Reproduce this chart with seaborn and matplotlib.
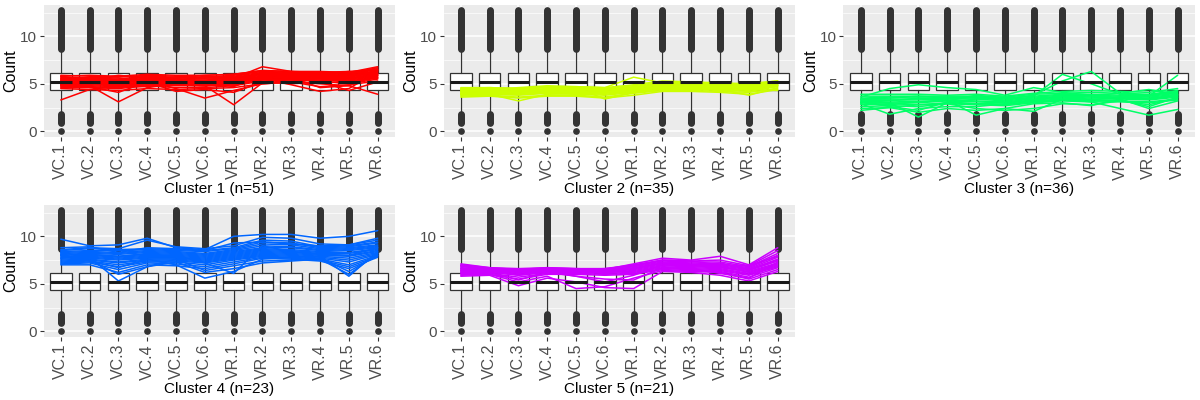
import numpy as np
import pandas as pd
import seaborn as sns
import matplotlib.pyplot as plt

samples = ['VC.1', 'VC.2', 'VC.3', 'VC.4', 'VC.5', 'VC.6',
           'VR.1', 'VR.2', 'VR.3', 'VR.4', 'VR.5', 'VR.6']
titles = ['Cluster 1 (n=51)', 'Cluster 2 (n=35)', 'Cluster 3 (n=36)',
          'Cluster 4 (n=23)', 'Cluster 5 (n=21)']
colors = ['#FF0000', '#CCFF00', '#00FF66', '#0066FF', '#CC00FF']

# background boxplot of all genes (same in every sample)
box_q1 = 4.35
box_med = 5.23
box_q3 = 6.1
box_lo = 1.9
box_hi = 8.6
out_hi = [8.7, 8.8, 8.9, 9.0, 9.1, 9.2, 9.3, 9.4, 9.5, 9.6, 9.7, 9.8, 9.9, 10.0,
          10.1, 10.2, 10.3, 10.4, 10.5, 10.6, 10.7, 10.8, 10.9, 11.0, 11.1, 11.2,
          11.3, 11.4, 11.5, 11.6, 11.7, 11.8, 11.9, 12.0, 12.1, 12.2, 12.3, 12.4,
          12.5, 12.6, 12.7, 12.8]
out_lo = [0.0, 0.9, 1.0, 1.1, 1.2, 1.3, 1.4, 1.5, 1.6, 1.7, 1.8]

cluster1 = [
    [5.9, 5.8, 5.7, 5.9, 5.8, 5.7, 5.9, 6.3, 6.2, 6.1, 6.0, 6.6],
    [5.8, 5.9, 5.8, 6.0, 5.9, 5.9, 6.0, 6.4, 6.3, 6.3, 6.2, 6.8],
    [5.7, 5.6, 5.5, 5.8, 5.7, 5.6, 5.8, 6.2, 6.1, 6.2, 6.1, 6.7],
    [5.6, 5.6, 5.4, 5.7, 5.6, 5.6, 5.7, 6.1, 6.1, 6.1, 6.0, 6.5],
    [5.5, 5.5, 5.3, 5.6, 5.5, 5.5, 5.6, 6.0, 6.0, 6.0, 5.9, 6.4],
    [5.4, 5.4, 5.3, 5.5, 5.4, 5.4, 5.6, 6.0, 5.9, 5.9, 5.8, 6.3],
    [5.3, 5.2, 5.2, 5.4, 5.3, 5.3, 5.5, 5.9, 5.9, 5.8, 5.7, 6.2],
    [5.2, 5.1, 5.1, 5.3, 5.2, 5.2, 5.4, 5.8, 5.8, 5.8, 5.6, 6.1],
    [5.1, 5.0, 5.0, 5.2, 5.1, 5.1, 5.3, 5.8, 5.8, 5.7, 5.6, 6.0],
    [5.0, 5.0, 4.9, 5.1, 5.0, 5.0, 5.2, 5.7, 5.7, 5.6, 5.5, 5.9],
    [4.9, 4.9, 4.8, 5.0, 5.0, 4.9, 5.1, 5.6, 5.6, 5.6, 5.4, 5.8],
    [4.8, 4.8, 4.7, 4.9, 4.9, 4.8, 5.0, 5.5, 5.5, 5.5, 5.3, 5.7],
    [4.7, 4.7, 4.6, 4.9, 4.8, 4.8, 5.0, 5.5, 5.5, 5.4, 5.2, 5.6],
    [4.6, 4.6, 4.5, 4.8, 4.6, 4.6, 4.8, 5.3, 5.4, 5.3, 5.0, 5.5],
    [5.8, 5.4, 5.9, 5.6, 5.3, 5.8, 5.6, 6.8, 6.3, 6.0, 6.3, 6.0],
    [3.3, 4.4, 4.8, 5.1, 4.9, 5.0, 5.2, 5.7, 5.8, 5.9, 5.5, 5.9],
    [5.0, 4.8, 3.1, 4.6, 5.0, 4.8, 4.9, 5.4, 5.5, 5.6, 5.2, 5.7],
    [5.2, 5.1, 4.9, 5.1, 4.9, 4.8, 2.8, 5.1, 5.3, 5.4, 5.3, 5.6],
    [5.4, 5.3, 5.2, 5.3, 4.5, 3.5, 4.3, 5.0, 5.2, 5.0, 4.8, 3.9],
    [5.6, 5.5, 5.4, 5.5, 5.2, 5.2, 5.3, 5.6, 4.9, 4.2, 4.5, 6.3],
    [4.8, 4.7, 4.1, 5.2, 4.2, 4.4, 4.1, 5.2, 5.0, 5.2, 4.3, 5.2],
    [5.5, 5.6, 5.8, 5.7, 5.6, 5.9, 6.0, 6.4, 6.3, 6.2, 6.3, 6.5],
    [5.0, 5.2, 4.7, 4.7, 5.1, 5.2, 4.7, 5.9, 5.7, 4.6, 4.8, 5.9],
    [4.5, 4.4, 4.3, 4.5, 4.4, 4.5, 4.6, 5.0, 5.2, 4.7, 4.9, 5.3],
    [5.3, 5.7, 5.6, 5.2, 5.5, 5.3, 5.4, 6.2, 6.1, 5.7, 5.9, 6.1],
    [4.9, 5.3, 5.0, 5.5, 5.2, 4.9, 5.7, 5.6, 5.7, 6.0, 5.7, 6.4],
]
cluster2 = [
    [4.6, 4.6, 4.5, 4.7, 4.7, 4.6, 4.9, 5.3, 5.2, 5.1, 5.0, 5.3],
    [4.5, 4.6, 4.5, 4.7, 4.6, 4.5, 4.8, 5.2, 5.1, 5.0, 5.0, 5.3],
    [4.4, 4.5, 4.4, 4.6, 4.5, 4.4, 4.7, 5.1, 5.0, 4.9, 4.9, 5.2],
    [4.3, 4.4, 4.3, 4.5, 4.5, 4.4, 4.6, 5.0, 4.9, 4.9, 4.8, 5.1],
    [4.3, 4.3, 4.2, 4.4, 4.4, 4.3, 4.6, 4.9, 4.9, 4.8, 4.7, 5.1],
    [4.2, 4.3, 4.2, 4.4, 4.3, 4.2, 4.5, 4.9, 4.8, 4.7, 4.7, 5.0],
    [4.1, 4.2, 4.1, 4.3, 4.2, 4.1, 4.4, 4.8, 4.7, 4.7, 4.6, 5.0],
    [4.0, 4.1, 4.0, 4.2, 4.2, 4.1, 4.4, 4.7, 4.7, 4.6, 4.5, 4.9],
    [4.0, 4.0, 3.9, 4.1, 4.1, 4.0, 4.3, 4.6, 4.6, 4.5, 4.4, 4.9],
    [3.9, 4.0, 3.9, 4.1, 4.0, 3.9, 4.2, 4.6, 4.5, 4.5, 4.3, 4.8],
    [3.8, 3.9, 3.8, 4.0, 3.9, 3.8, 4.1, 4.5, 4.5, 4.4, 4.2, 4.7],
    [3.7, 3.8, 3.6, 3.8, 3.8, 3.6, 4.0, 4.3, 4.3, 4.2, 4.1, 4.5],
    [3.6, 3.7, 3.5, 3.7, 3.7, 3.5, 3.8, 4.2, 4.2, 4.1, 3.9, 4.4],
    [4.2, 4.4, 4.6, 4.8, 4.7, 4.6, 5.7, 5.1, 4.9, 4.9, 5.0, 5.1],
    [3.9, 3.9, 3.2, 3.9, 4.0, 4.1, 4.2, 4.7, 4.6, 4.6, 4.5, 4.8],
    [4.5, 4.4, 4.0, 4.5, 4.6, 3.4, 4.1, 4.4, 4.5, 4.4, 3.8, 4.6],
    [4.2, 4.1, 4.3, 4.2, 4.3, 4.5, 4.5, 5.0, 4.8, 4.9, 4.8, 5.2],
    [3.9, 4.2, 4.0, 4.4, 3.9, 4.2, 4.2, 4.4, 4.4, 4.3, 4.4, 4.3],
    [4.4, 4.1, 4.2, 4.1, 4.5, 4.2, 4.4, 4.7, 4.7, 4.6, 4.6, 4.8],
]
cluster3 = [
    [3.9, 3.9, 3.9, 3.8, 3.9, 3.7, 4.0, 4.2, 4.3, 4.2, 4.1, 4.5],
    [3.7, 3.7, 3.7, 3.7, 3.7, 3.6, 3.9, 4.0, 4.1, 4.0, 3.9, 4.3],
    [3.5, 3.6, 3.6, 3.6, 3.6, 3.5, 3.7, 3.9, 3.9, 3.8, 3.8, 4.1],
    [3.4, 3.4, 3.4, 3.5, 3.5, 3.3, 3.6, 3.8, 3.8, 3.7, 3.6, 3.9],
    [3.3, 3.3, 3.3, 3.4, 3.4, 3.2, 3.5, 3.7, 3.7, 3.6, 3.5, 3.8],
    [3.1, 3.2, 3.1, 3.3, 3.2, 3.1, 3.4, 3.6, 3.5, 3.5, 3.4, 3.7],
    [3.0, 3.0, 3.0, 3.2, 3.1, 3.0, 3.3, 3.5, 3.4, 3.4, 3.3, 3.6],
    [2.8, 2.9, 2.8, 3.0, 2.9, 2.8, 3.1, 3.3, 3.3, 3.2, 3.1, 3.4],
    [2.6, 2.7, 2.6, 2.9, 2.8, 2.7, 3.0, 3.2, 3.1, 3.1, 3.0, 3.3],
    [3.6, 4.5, 4.9, 4.6, 4.4, 3.8, 4.6, 4.1, 3.8, 4.0, 4.4, 3.9],
    [3.2, 3.0, 1.5, 3.0, 3.4, 3.6, 3.3, 3.7, 3.6, 3.5, 3.4, 3.8],
    [3.0, 2.8, 3.1, 3.3, 1.7, 2.4, 2.1, 3.4, 3.3, 3.6, 3.7, 4.0],
    [3.4, 3.5, 3.7, 3.5, 3.6, 3.4, 3.8, 5.3, 6.3, 4.0, 3.8, 4.2],
    [3.3, 3.2, 3.5, 3.2, 3.8, 3.5, 3.7, 6.0, 5.0, 3.9, 3.7, 5.9],
    [3.1, 2.6, 2.2, 3.1, 2.9, 3.0, 3.2, 3.4, 3.1, 2.4, 1.7, 2.3],
    [2.9, 1.8, 2.4, 2.6, 2.6, 2.9, 3.1, 3.3, 3.2, 3.3, 2.6, 3.6],
    [2.4, 2.5, 2.0, 2.4, 2.2, 2.4, 2.9, 3.0, 2.7, 3.4, 2.4, 3.2],
    [2.2, 2.5, 2.8, 2.9, 2.4, 2.2, 2.4, 2.9, 2.8, 3.2, 2.8, 3.5],
]
cluster4 = [
    [9.7, 9.0, 9.1, 9.8, 8.8, 8.6, 10.0, 10.2, 10.2, 9.8, 10.0, 10.6],
    [8.6, 8.8, 8.7, 9.6, 8.9, 8.7, 9.0, 9.9, 9.8, 9.2, 9.1, 9.6],
    [8.5, 8.7, 8.6, 8.7, 8.6, 8.5, 8.8, 9.6, 9.5, 8.9, 9.0, 9.4],
    [8.4, 8.5, 8.5, 8.6, 8.5, 8.4, 8.7, 9.4, 9.3, 8.8, 8.9, 9.3],
    [8.3, 8.4, 8.3, 8.5, 8.4, 8.2, 8.6, 9.2, 9.1, 8.7, 8.8, 9.1],
    [8.2, 8.3, 8.2, 8.4, 8.3, 8.1, 8.5, 9.0, 8.9, 8.6, 8.7, 9.0],
    [8.1, 8.2, 8.1, 8.3, 8.2, 8.0, 8.4, 8.8, 8.8, 8.5, 8.6, 8.9],
    [8.0, 8.1, 7.9, 8.2, 8.1, 7.9, 8.3, 8.7, 8.6, 8.4, 8.5, 8.8],
    [7.9, 8.0, 7.8, 8.0, 8.0, 7.8, 8.2, 8.6, 8.5, 8.3, 8.3, 8.7],
    [7.8, 7.9, 7.7, 7.9, 7.9, 7.7, 8.1, 8.5, 8.4, 8.2, 8.2, 8.6],
    [7.7, 7.8, 7.6, 7.8, 7.8, 7.6, 8.0, 8.4, 8.3, 8.1, 8.0, 8.5],
    [7.6, 7.7, 7.5, 7.7, 7.7, 7.5, 7.9, 8.3, 8.2, 8.0, 7.9, 8.4],
    [7.5, 7.6, 7.3, 7.6, 7.6, 7.4, 7.8, 8.2, 8.1, 7.9, 7.7, 8.3],
    [7.4, 7.5, 7.2, 7.5, 7.5, 7.3, 7.7, 8.1, 8.0, 7.8, 7.5, 8.2],
    [7.3, 7.4, 7.0, 7.4, 7.4, 7.2, 7.6, 8.0, 7.9, 7.7, 7.3, 8.1],
    [7.2, 7.3, 6.8, 7.3, 7.3, 7.0, 7.5, 7.9, 7.8, 7.6, 7.0, 8.0],
    [7.1, 7.2, 6.5, 7.2, 7.1, 6.8, 7.3, 7.8, 7.7, 7.5, 6.8, 7.9],
    [7.0, 7.0, 6.2, 7.0, 6.9, 6.6, 7.1, 7.7, 7.6, 7.4, 6.6, 7.8],
    [8.0, 7.5, 6.0, 6.8, 7.6, 6.4, 6.9, 7.4, 7.5, 7.7, 6.3, 8.0],
    [8.3, 7.8, 5.3, 6.8, 7.3, 6.2, 6.6, 7.2, 7.4, 7.6, 6.0, 8.2],
    [8.1, 7.4, 6.7, 7.6, 7.0, 5.6, 6.3, 7.6, 7.8, 7.9, 5.8, 8.4],
    [7.7, 8.1, 7.9, 8.1, 8.0, 7.2, 6.1, 9.0, 8.4, 8.1, 8.0, 8.8],
    [8.8, 8.9, 8.3, 8.8, 8.7, 8.5, 9.3, 9.4, 9.2, 9.0, 9.1, 9.8],
]
cluster5 = [
    [7.1, 6.7, 6.5, 6.7, 6.6, 6.5, 7.1, 7.7, 7.5, 7.9, 7.0, 8.8],
    [7.0, 6.7, 6.6, 6.7, 6.6, 6.6, 7.0, 7.5, 7.4, 7.5, 6.9, 8.5],
    [6.9, 6.6, 6.5, 6.6, 6.5, 6.5, 6.9, 7.4, 7.3, 7.3, 6.8, 8.2],
    [6.8, 6.6, 6.4, 6.6, 6.5, 6.4, 6.8, 7.3, 7.2, 7.1, 6.7, 8.0],
    [6.7, 6.5, 6.4, 6.5, 6.4, 6.4, 6.7, 7.2, 7.1, 7.0, 6.6, 7.8],
    [6.6, 6.5, 6.3, 6.5, 6.4, 6.3, 6.6, 7.1, 7.0, 6.9, 6.5, 7.6],
    [6.5, 6.4, 6.2, 6.4, 6.3, 6.3, 6.5, 7.0, 6.9, 6.8, 6.4, 7.4],
    [6.4, 6.3, 6.1, 6.3, 6.3, 6.2, 6.4, 6.9, 6.8, 6.7, 6.3, 7.2],
    [6.3, 6.3, 6.0, 6.3, 6.2, 6.2, 6.3, 6.8, 6.7, 6.6, 6.1, 7.0],
    [6.2, 6.2, 5.9, 6.2, 6.2, 6.1, 6.2, 6.7, 6.6, 6.5, 6.0, 6.9],
    [6.1, 6.1, 5.7, 6.1, 6.1, 6.0, 6.1, 6.6, 6.5, 6.4, 5.9, 6.8],
    [6.0, 6.0, 5.5, 6.0, 6.0, 5.9, 6.0, 6.5, 6.4, 6.3, 5.7, 6.7],
    [5.9, 6.0, 5.2, 5.8, 4.5, 4.7, 5.6, 6.4, 6.3, 6.2, 5.5, 6.5],
    [5.8, 5.9, 4.8, 5.6, 5.2, 4.6, 4.5, 6.3, 6.2, 5.9, 5.3, 6.3],
    [6.6, 6.2, 5.4, 6.2, 5.8, 5.5, 5.4, 6.7, 6.6, 6.1, 5.6, 7.3],
    [6.4, 6.4, 6.3, 6.5, 6.5, 6.6, 6.9, 7.5, 7.4, 7.0, 6.9, 7.9],
    [6.9, 6.5, 5.9, 6.3, 5.8, 5.2, 5.9, 7.0, 6.9, 6.8, 6.2, 7.1],
    [6.2, 6.6, 6.2, 6.3, 6.4, 6.2, 6.6, 7.2, 7.0, 7.2, 6.5, 7.5],
]
clusters = [cluster1, cluster2, cluster3, cluster4, cluster5]

sns.set_theme(style='darkgrid', rc={
    'axes.facecolor': '#EBEBEB', 'grid.color': 'white',
    'axes.edgecolor': '#EBEBEB', 'xtick.bottom': True, 'ytick.left': True,
    'xtick.color': '#333333', 'ytick.color': '#333333',
    'xtick.major.size': 3, 'ytick.major.size': 3,
    'xtick.major.width': 0.8, 'ytick.major.width': 0.8,
    'xtick.major.pad': 2, 'ytick.major.pad': 2,
})
plt.rcParams['font.family'] = ['Liberation Sans', 'DejaVu Sans']

fig = plt.figure(figsize=(12, 4), dpi=100)
lefts = [0.03625, 0.3696, 0.7029]
bottoms = [0.6575, 0.1575]

stats = [dict(med=box_med, q1=box_q1, q3=box_q3, whislo=box_lo, whishi=box_hi,
              fliers=out_lo + out_hi) for _ in samples]

for k, (lines, col, title) in enumerate(zip(clusters, colors, titles)):
    ax = fig.add_axes([lefts[k % 3], bottoms[k // 3], 0.2929, 0.33])
    ax.bxp(stats, positions=range(len(samples)), widths=0.75, patch_artist=True,
           showcaps=False,
           boxprops=dict(facecolor='white', edgecolor='#333333', lw=0.9),
           medianprops=dict(color='#1A1A1A', lw=2.2),
           whiskerprops=dict(color='#333333', lw=0.9),
           flierprops=dict(marker='o', markerfacecolor='#333333',
                           markeredgecolor='#333333', markersize=3.8))
    df = pd.DataFrame([(g, i, v) for g, row in enumerate(lines)
                       for i, v in enumerate(row)], columns=['gene', 'pos', 'value'])
    sns.lineplot(data=df, x='pos', y='value', units='gene', estimator=None,
                 color=col, lw=1.1, legend=False, ax=ax)
    ax.set_xlim(-0.6, 11.6)
    ax.set_ylim(-0.6, 13.3)
    ax.set_xticks(range(len(samples)))
    ax.set_xticklabels(samples, rotation=90, fontsize=11.5, color='#4D4D4D')
    ax.set_yticks([0, 5, 10])
    ax.set_yticks([2.5, 7.5, 12.5], minor=True)
    ax.tick_params(axis='y', labelsize=11, labelcolor='#4D4D4D')
    ax.tick_params(which='minor', length=0)
    ax.grid(True, which='major', lw=1.1)
    ax.grid(True, which='minor', lw=0.5)
    ax.set_xlabel(title, fontsize=11, color='black', labelpad=2)
    ax.set_ylabel('Count', fontsize=11.5, color='black', labelpad=1)
    for s in ax.spines.values():
        s.set_visible(False)

fig.savefig('out.png', dpi=100)
